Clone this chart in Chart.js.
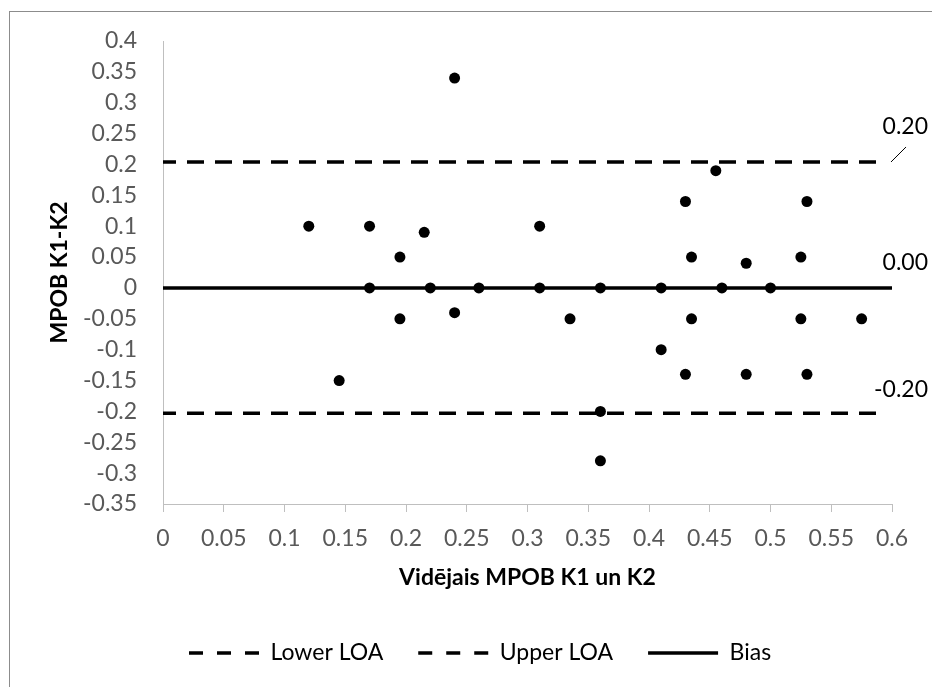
<!DOCTYPE html>
<html>
<head>
<meta charset="utf-8">
<script src="https://cdn.jsdelivr.net/npm/chart.js@4/dist/chart.umd.min.js"></script>
<style>
  html, body { margin: 0; padding: 0; background: #ffffff; overflow: hidden; }
  #wrap { width: 932px; height: 687px; position: relative; }
</style>
</head>
<body>
<div id="wrap"><canvas id="c" width="932" height="687"></canvas></div>
<script>
// ---- Data ----
const meanValues = [0.12, 0.145, 0.17, 0.17, 0.195, 0.195, 0.215, 0.22, 0.24, 0.24, 0.26, 0.31, 0.31, 0.335, 0.36, 0.36, 0.36, 0.41, 0.41, 0.43, 0.43, 0.435, 0.435, 0.455, 0.46, 0.48, 0.48, 0.5, 0.525, 0.525, 0.53, 0.53, 0.575];
const diffValues = [0.1, -0.15, 0.1, 0, 0.05, -0.05, 0.09, 0, 0.34, -0.04, 0, 0.1, 0, -0.05, 0, -0.2, -0.28, 0, -0.1, 0.14, -0.14, 0.05, -0.05, 0.19, 0, 0.04, -0.14, 0, 0.05, -0.05, 0.14, -0.14, -0.05];

const loaX = [0, 0.59];
const lowerLOA = [-0.203, -0.203];
const upperLOA = [0.204, 0.204];
const biasX = [0, 0.6];
const bias = [0, 0];

const seriesNames = ['Lower LOA', 'Upper LOA', 'Bias'];
const lineLabels = ['-0.20', '0.20', '0.00'];

const xTicks = { min: 0, max: 0.6, step: 0.05 };
const yTicks = { min: -0.35, max: 0.4, step: 0.05 };

const xTitle = 'Vidējais MPOB K1 un K2';
const yTitle = 'MPOB K1-K2';

// ---- build ----
const toPts = (xs, ys) => xs.map((x, i) => ({ x: x, y: ys[i] }));
const FONT = 'Lato';
const FS = 23;

const fmt = v => {
  const r = Math.round(v * 100) / 100;
  return (Object.is(r, -0) ? 0 : r).toString();
};

const framePlugin = {
  id: 'frame',
  beforeDraw(chart) {
    const ctx = chart.ctx;
    ctx.save();
    ctx.fillStyle = '#ffffff';
    ctx.fillRect(0, 0, chart.width, chart.height);
    ctx.strokeStyle = '#8c8c8c';
    ctx.lineWidth = 1;
    ctx.strokeRect(9.5, 11.5, 2000, 2000);
    ctx.restore();
  },
  afterLayout(chart) {
    const lg = chart.legend;
    if (lg) {
      const w = lg.right - lg.left;
      lg.left = 154;
      lg.right = 154 + w;
    }
  }
};

const yTitlePlugin = {
  id: 'yTitle',
  afterDraw(chart) {
    const ctx = chart.ctx;
    const ca = chart.chartArea;
    ctx.save();
    ctx.translate(ca.left - 103, (ca.top + ca.bottom) / 2);
    ctx.rotate(-Math.PI / 2);
    ctx.font = 'bold ' + FS + 'px ' + FONT;
    ctx.fillStyle = '#000000';
    ctx.textAlign = 'center';
    ctx.textBaseline = 'middle';
    ctx.fillText(yTitle, 0, 0);
    ctx.restore();
  }
};

const lineLabelPlugin = {
  id: 'lineLabels',
  afterDatasetsDraw(chart) {
    const ctx = chart.ctx;
    const xs = chart.scales.x, ys = chart.scales.y;
    const xr = xs.getPixelForValue(xTicks.max) + 36;
    ctx.save();
    ctx.font = FS + 'px ' + FONT;
    ctx.fillStyle = '#000000';
    ctx.textAlign = 'right';
    ctx.textBaseline = 'middle';
    const vals = [lowerLOA[0], upperLOA[0], bias[0]];
    const offs = [24, 35, 25];
    vals.forEach((v, i) => {
      ctx.fillText(lineLabels[i], xr, ys.getPixelForValue(v) - offs[i]);
    });
    // leader line for the upper LOA label
    const yU = ys.getPixelForValue(upperLOA[0]);
    const xE = xs.getPixelForValue(xTicks.max);
    ctx.strokeStyle = '#000000';
    ctx.lineWidth = 1;
    ctx.beginPath();
    ctx.moveTo(xE - 1, yU);
    ctx.lineTo(xE + 14, yU - 15);
    ctx.stroke();
    ctx.restore();
  }
};

const lineStyle = {
  borderColor: '#000000',
  backgroundColor: '#000000',
  borderWidth: 3.5,
  showLine: true,
  pointRadius: 0,
  pointHoverRadius: 0,
  fill: false,
  tension: 0
};

new Chart(document.getElementById('c'), {
  type: 'scatter',
  data: {
    datasets: [
      {
        label: 'Data',
        data: toPts(meanValues, diffValues),
        pointRadius: 5.5,
        pointHoverRadius: 5.5,
        pointBackgroundColor: '#000000',
        pointBorderColor: '#000000',
        pointBorderWidth: 0,
        showLine: false,
        order: 0
      },
      Object.assign({ label: seriesNames[0], data: toPts(loaX, lowerLOA), borderDash: [17, 11], borderDashOffset: 4, order: 1 }, lineStyle),
      Object.assign({ label: seriesNames[1], data: toPts(loaX, upperLOA), borderDash: [17, 11], borderDashOffset: 4, order: 1 }, lineStyle),
      Object.assign({ label: seriesNames[2], data: toPts(biasX, bias), order: 1 }, lineStyle)
    ]
  },
  options: {
    responsive: false,
    animation: false,
    devicePixelRatio: 1,
    layout: { padding: { left: 0, right: 40, top: 41, bottom: 12.5 } },
    plugins: {
      tooltip: { enabled: false },
      legend: {
        position: 'bottom',
        align: 'start',
        labels: {
          usePointStyle: true,
          pointStyle: 'line',
          pointStyleWidth: 70,
          padding: 35,
          color: '#000000',
          font: { family: FONT, size: FS },
          generateLabels: chart => Chart.defaults.plugins.legend.labels.generateLabels(chart)
            .filter(it => it.datasetIndex !== 0)
            .map(it => {
              const ds = chart.data.datasets[it.datasetIndex];
              it.lineDash = ds.borderDash ? [14, 14] : [];
              it.lineDashOffset = 0;
              it.lineWidth = 3.5;
              it.strokeStyle = '#000000';
              it.fillStyle = '#000000';
              it.pointStyle = 'line';
              return it;
            })
        }
      }
    },
    scales: {
      x: {
        type: 'linear',
        min: xTicks.min,
        max: xTicks.max,
        afterFit: s => { s.height = 102.5; },
        afterBuildTicks: s => {
          const t = [];
          for (let v = xTicks.min; v <= xTicks.max + 1e-9; v += xTicks.step) t.push({ value: Math.round(v * 100) / 100 });
          s.ticks = t;
        },
        border: { display: true, color: '#bfbfbf', width: 1 },
        grid: { display: true, drawOnChartArea: false, drawTicks: true, tickLength: 8, color: '#bfbfbf' },
        ticks: {
          padding: 13,
          color: '#595959',
          font: { family: FONT, size: FS },
          maxRotation: 0,
          autoSkip: false,
          callback: v => fmt(v)
        },
        title: {
          display: true,
          text: xTitle,
          color: '#000000',
          font: { family: FONT, size: FS, weight: 'bold' },
          padding: { top: 0, bottom: 15 }
        }
      },
      y: {
        type: 'linear',
        min: yTicks.min,
        max: yTicks.max,
        afterFit: s => { s.width = 163; },
        afterBuildTicks: s => {
          const t = [];
          for (let v = yTicks.min; v <= yTicks.max + 1e-9; v += yTicks.step) t.push({ value: Math.round(v * 100) / 100 });
          s.ticks = t;
        },
        border: { display: true, color: '#bfbfbf', width: 1 },
        grid: { display: true, drawOnChartArea: false, drawTicks: false, color: '#bfbfbf' },
        ticks: {
          padding: 26,
          color: '#595959',
          font: { family: FONT, size: FS },
          autoSkip: false,
          callback: v => fmt(v)
        },
        title: { display: false }
      }
    }
  },
  plugins: [framePlugin, lineLabelPlugin, yTitlePlugin]
});
</script>
</body>
</html>
